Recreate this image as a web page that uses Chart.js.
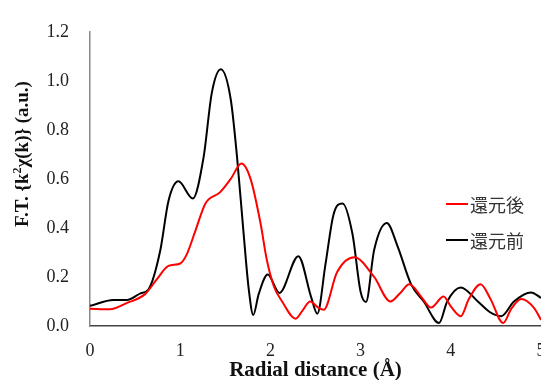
<!DOCTYPE html>
<html>
<head>
<meta charset="utf-8">
<script src="https://cdn.jsdelivr.net/npm/chart.js@4/dist/chart.umd.min.js"></script>
<style>
  html, body { margin: 0; padding: 0; overflow: hidden; background: #fff; }
  .wrap { width: 545px; height: 380px; }
</style>
</head>
<body>
<div class="wrap"><canvas id="myChart" width="545" height="380"></canvas></div>
<script>
const seriesLabels = ["還元後", "還元前"];

// 還元後 (after reduction)
const afterX = [0, 0.22, 0.41, 0.61, 0.74, 0.87, 1.0, 1.07, 1.17, 1.28, 1.44, 1.56, 1.68, 1.78, 1.89, 1.96, 2.04, 2.13, 2.28, 2.36, 2.44, 2.53, 2.59, 2.74, 2.93, 3.15, 3.33, 3.44, 3.54, 3.67, 3.78, 3.92, 4.0, 4.11, 4.2, 4.33, 4.44, 4.58, 4.67, 4.78, 4.92, 5.0];
const afterY = [0.07, 0.068, 0.094, 0.13, 0.19, 0.245, 0.255, 0.29, 0.39, 0.5, 0.545, 0.6, 0.663, 0.6, 0.42, 0.27, 0.16, 0.1, 0.03, 0.065, 0.1, 0.075, 0.066, 0.22, 0.28, 0.2, 0.1, 0.135, 0.17, 0.12, 0.075, 0.12, 0.08, 0.04, 0.11, 0.17, 0.11, 0.012, 0.07, 0.11, 0.075, 0.025];

// 還元前 (before reduction)
const beforeX = [0, 0.26, 0.41, 0.56, 0.65, 0.78, 0.87, 0.98, 1.14, 1.26, 1.35, 1.45, 1.56, 1.63, 1.7, 1.76, 1.81, 1.87, 1.97, 2.1, 2.31, 2.45, 2.52, 2.61, 2.7, 2.8, 2.91, 3.0, 3.06, 3.15, 3.29, 3.41, 3.56, 3.7, 3.87, 3.96, 4.11, 4.3, 4.44, 4.56, 4.7, 4.89, 5.0];
const beforeY = [0.082, 0.106, 0.106, 0.133, 0.15, 0.31, 0.51, 0.59, 0.52, 0.69, 0.95, 1.047, 0.925, 0.69, 0.39, 0.15, 0.045, 0.13, 0.21, 0.135, 0.285, 0.12, 0.05, 0.25, 0.455, 0.5, 0.375, 0.14, 0.098, 0.31, 0.42, 0.325, 0.17, 0.1, 0.012, 0.1, 0.157, 0.1, 0.055, 0.04, 0.1, 0.137, 0.115];

const xTicks = [0, 1, 2, 3, 4, 5];
const yTicks = [0, 0.2, 0.4, 0.6, 0.8, 1.0, 1.2];

const toPoints = (xs, ys) => xs.map((x, i) => ({ x: x, y: ys[i] }));

const serif = "'Liberation Serif', 'Times New Roman', serif";

// legend drawn inside the plot, like the original
const insideLegend = {
  id: "insideLegend",
  afterDraw(chart) {
    const ctx = chart.ctx;
    const rows = [204, 240];
    ctx.save();
    ctx.font = "18px 'Noto Sans CJK JP', sans-serif";
    ctx.textBaseline = "middle";
    chart.data.datasets.forEach((ds, i) => {
      const y = rows[i];
      ctx.strokeStyle = ds.borderColor;
      ctx.lineWidth = 2;
      ctx.beginPath();
      ctx.moveTo(446, y);
      ctx.lineTo(468, y);
      ctx.stroke();
      ctx.fillStyle = "#333";
      ctx.fillText(ds.label, 470, y + 1);
    });
    ctx.restore();
  }
};

// y title with a real superscript 2
const yTitle = {
  id: "yTitle",
  afterDraw(chart) {
    const ctx = chart.ctx;
    const parts = [
      { t: "F.T. {k", size: 19, dy: 0 },
      { t: "2", size: 12, dy: -7 },
      { t: "χ(k)} (a.u.)", size: 19, dy: 0 }
    ];
    ctx.save();
    ctx.translate(28, 154);
    ctx.rotate(-Math.PI / 2);
    ctx.fillStyle = "#111";
    ctx.textBaseline = "alphabetic";
    let total = 0;
    parts.forEach(p => {
      ctx.font = "bold " + p.size + "px " + serif;
      p.w = ctx.measureText(p.t).width;
      total += p.w;
    });
    let x = -total / 2;
    parts.forEach(p => {
      ctx.font = "bold " + p.size + "px " + serif;
      ctx.fillText(p.t, x, p.dy);
      x += p.w;
    });
    ctx.restore();
  }
};

const ctx = document.getElementById("myChart");

new Chart(ctx, {
  type: "line",
  data: {
    datasets: [
      {
        label: seriesLabels[0],
        data: toPoints(afterX, afterY),
        borderColor: "#ff0000",
        borderWidth: 2,
        pointRadius: 0,
        cubicInterpolationMode: "monotone"
      },
      {
        label: seriesLabels[1],
        data: toPoints(beforeX, beforeY),
        borderColor: "#000000",
        borderWidth: 2,
        pointRadius: 0,
        cubicInterpolationMode: "monotone"
      }
    ]
  },
  options: {
    responsive: false,
    animation: false,
    devicePixelRatio: 1,
    layout: { padding: { top: 20, left: 0, right: 0, bottom: 0 } },
    plugins: {
      legend: { display: false },
      tooltip: { enabled: false }
    },
    scales: {
      x: {
        type: "linear",
        min: 0,
        max: 5,
        afterBuildTicks: (s) => { s.ticks = xTicks.map(v => ({ value: v })); },
        afterFit: (s) => { s.height = 54; s.paddingRight = 4; },
        grid: { display: false, drawTicks: false },
        border: { color: "#444", width: 1.5 },
        ticks: { color: "#222", padding: 14, font: { family: serif, size: 18 } },
        title: {
          display: true,
          text: "Radial distance (Å)",
          color: "#111",
          padding: { top: 0, bottom: -3 },
          font: { family: serif, size: 21, weight: "bold" }
        }
      },
      y: {
        min: 0,
        max: 1.2,
        afterBuildTicks: (s) => { s.ticks = yTicks.map(v => ({ value: v })); },
        afterFit: (s) => { s.width = 90; },
        grid: { display: false, drawTicks: false },
        border: { color: "#888", width: 1.5 },
        ticks: {
          color: "#222",
          padding: 21,
          font: { family: serif, size: 18 },
          callback: (v) => v.toFixed(1)
        }
      }
    }
  },
  plugins: [insideLegend, yTitle]
});
</script>
</body>
</html>
